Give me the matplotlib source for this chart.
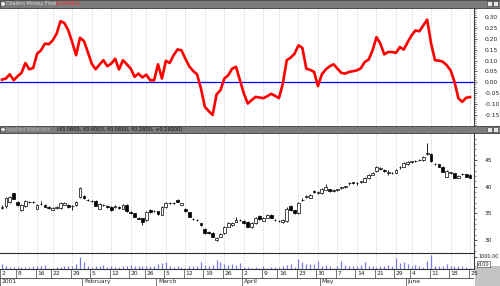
import numpy as np
import pandas as pd
import matplotlib
matplotlib.use('Agg')
import matplotlib.pyplot as plt
from matplotlib.patches import Rectangle

# chaikin money flow, one value per trading day
cmf = [0.012, 0.017, 0.037, 0.009, 0.028, 0.043, 0.089, 0.060, 0.066, 0.132,
       0.148, 0.179, 0.176, 0.194, 0.225, 0.283, 0.274, 0.240, 0.186, 0.125,
       0.206, 0.191, 0.140, 0.086, 0.060, 0.082, 0.102, 0.074, 0.086, 0.109,
       0.059, 0.102, 0.083, 0.063, 0.025, 0.040, 0.022, 0.035, 0.009, 0.009,
       0.083, 0.017, 0.099, 0.089, 0.125, 0.152, 0.148, 0.109, 0.074, 0.052,
       0.037, -0.029, -0.114, -0.134, -0.152, -0.057, -0.037, 0.017, 0.032, 0.063,
       0.071, 0.009, -0.052, -0.099, -0.083, -0.068, -0.071, -0.074, -0.065, -0.054,
       -0.063, -0.074, -0.006, 0.102, 0.114, 0.132, 0.171, 0.159, 0.063, 0.057,
       0.048, -0.018, 0.037, 0.059, 0.074, 0.083, 0.063, 0.043, 0.040, 0.048,
       0.051, 0.055, 0.065, 0.094, 0.105, 0.148, 0.209, 0.179, 0.129, 0.140,
       0.140, 0.136, 0.163, 0.151, 0.186, 0.217, 0.240, 0.236, 0.263, 0.290,
       0.179, 0.102, 0.100, 0.095, 0.079, 0.055, 0.002, -0.075, -0.091, -0.072,
       -0.069]

opens = [36.0, 36.3, 37.2, 38.75, 37.2, 35.6, 36.3, 37.1, 37.2, 35.9,
         36.7, 36.6, 36.1, 35.7, 36.0, 36.0, 36.6, 36.6, 36.3, 36.6,
         38.1, 38.3, 37.5, 37.4, 37.3, 35.9, 36.6, 36.3, 36.2, 36.2,
         36.1, 35.9, 36.6, 35.2, 35.0, 34.1, 34.1, 33.8, 35.6, 35.4,
         35.4, 34.7, 36.1, 36.9, 36.9, 37.5, 36.6, 35.9, 35.2, 33.9,
         33.8, 33.1, 32.1, 31.5, 31.4, 30.0, 30.6, 31.3, 32.5, 32.8,
         33.4, 33.8, 33.6, 33.4, 32.5, 33.1, 34.5, 33.6, 34.2, 34.7,
         33.8, 33.6, 33.3, 33.5, 36.3, 35.6, 35.0, 37.5, 38.1, 37.9,
         39.1, 38.9, 38.75, 39.4, 39.5, 39.1, 39.4, 39.8, 40.0, 40.6,
         40.8, 40.6, 40.9, 40.9, 41.6, 42.2, 42.9, 43.4, 43.2, 42.6,
         42.5, 42.6, 43.6, 43.75, 44.2, 44.7, 44.8, 45.0, 45.0, 46.2,
         46.1, 44.2, 44.2, 43.75, 41.9, 42.6, 42.5, 41.7, 42.3, 42.3,
         42.2]
highs = [36.5, 38.0, 38.3, 38.9, 37.4, 36.7, 37.5, 37.4, 37.4, 36.7,
         37.4, 36.8, 36.4, 36.2, 36.3, 37.1, 37.2, 36.8, 36.6, 37.3,
         40.0, 38.4, 37.7, 37.5, 37.5, 36.9, 36.8, 36.5, 36.3, 36.5,
         36.3, 36.8, 36.8, 35.4, 35.1, 34.3, 34.2, 35.4, 35.8, 35.6,
         35.5, 36.4, 37.1, 37.1, 37.1, 37.6, 37.0, 36.0, 35.3, 34.1,
         34.0, 33.2, 32.2, 31.7, 31.5, 30.5, 31.4, 32.7, 33.3, 33.3,
         34.4, 34.0, 33.7, 33.5, 33.3, 34.3, 34.6, 34.3, 34.9, 34.8,
         34.0, 33.8, 33.9, 36.1, 36.5, 35.7, 37.1, 37.8, 38.4, 38.6,
         39.3, 39.1, 39.8, 40.5, 39.6, 39.6, 39.6, 40.0, 40.2, 40.9,
         40.9, 40.8, 41.1, 41.8, 42.4, 42.8, 43.8, 43.6, 43.3, 43.2,
         42.7, 43.4, 43.8, 44.6, 44.9, 44.9, 45.0, 45.2, 45.8, 48.1,
         46.3, 44.4, 44.3, 43.9, 43.1, 42.8, 42.6, 42.2, 42.5, 42.4,
         42.3]
lows = [35.8, 36.0, 37.0, 37.6, 36.4, 35.4, 36.1, 36.9, 36.9, 35.8,
        36.5, 36.1, 35.8, 35.6, 35.9, 35.9, 36.5, 36.0, 35.6, 36.4,
        37.9, 37.7, 37.3, 37.1, 36.3, 35.8, 36.3, 36.0, 35.5, 36.0,
        35.9, 35.8, 35.3, 34.9, 34.3, 33.9, 32.8, 33.6, 35.0, 35.2,
        34.7, 34.6, 36.0, 36.7, 36.7, 37.1, 36.5, 35.3, 34.3, 33.7,
        33.5, 32.7, 31.2, 31.2, 30.5, 29.9, 30.5, 31.2, 32.4, 32.7,
        33.3, 33.5, 33.0, 32.4, 32.3, 33.0, 33.8, 33.5, 34.1, 34.1,
        33.6, 33.4, 33.2, 33.4, 35.5, 34.9, 34.9, 37.3, 37.9, 37.8,
        38.8, 38.6, 38.6, 39.3, 39.0, 39.0, 39.2, 39.6, 39.8, 40.4,
        40.5, 40.4, 40.7, 40.8, 41.5, 42.1, 42.8, 43.2, 42.8, 42.1,
        42.3, 42.5, 43.4, 43.6, 44.1, 44.5, 44.6, 44.8, 44.9, 46.0,
        44.7, 44.0, 43.6, 42.7, 41.8, 42.4, 41.6, 41.6, 42.1, 41.8,
        41.6]
closes = [36.2, 37.8, 38.1, 37.7, 36.6, 36.5, 37.3, 37.2, 37.1, 36.5,
          36.8, 36.2, 36.0, 36.0, 36.1, 36.9, 37.0, 36.2, 36.4, 37.1,
          39.7, 37.8, 37.5, 37.3, 36.4, 36.7, 36.5, 36.2, 35.6, 36.3,
          36.0, 36.6, 35.4, 35.1, 34.4, 34.0, 33.4, 35.2, 35.2, 35.4,
          34.8, 36.2, 36.9, 36.9, 36.9, 37.2, 36.9, 35.4, 34.4, 33.9,
          33.7, 32.8, 31.3, 31.4, 30.6, 30.3, 31.2, 32.5, 33.1, 33.1,
          33.7, 33.7, 33.1, 32.5, 33.1, 34.1, 33.9, 34.1, 34.7, 34.2,
          33.75, 33.5, 33.7, 35.9, 35.6, 35.0, 36.9, 37.5, 38.1, 38.4,
          39.0, 38.9, 39.6, 40.0, 39.1, 39.4, 39.4, 39.8, 40.0, 40.6,
          40.7, 40.6, 40.9, 41.6, 42.2, 42.6, 43.6, 43.4, 42.9, 42.6,
          42.5, 43.2, 43.6, 44.4, 44.7, 44.7, 44.8, 45.0, 45.6, 46.3,
          44.8, 44.2, 43.75, 42.8, 42.9, 42.6, 41.7, 42.0, 42.3, 41.9,
          41.7]

volume = [5.3, 2.7, 2.0, 2.0, 1.7, 1.7, 2.0, 2.0, 3.3, 2.7,
          2.7, 4.3, 1.0, 1.0, 2.0, 2.0, 2.7, 2.7, 3.3, 5.3,
          12.0, 6.7, 2.7, 2.0, 3.3, 2.7, 4.3, 1.7, 2.7, 2.0,
          2.0, 2.7, 3.3, 4.3, 2.7, 3.3, 2.7, 2.7, 2.7, 3.3,
          5.3, 6.0, 6.7, 3.3, 2.0, 2.7, 2.0, 1.0, 3.3, 2.7,
          3.3, 6.7, 4.3, 2.7, 4.3, 8.7, 6.7, 5.3, 4.3, 5.3,
          4.3, 6.0, 2.0, 2.0, 1.0, 2.0, 1.0, 2.7, 1.0, 1.7,
          2.0, 2.0, 2.7, 4.3, 5.3, 2.0, 10.0, 6.7, 5.3, 5.3,
          5.3, 7.7, 3.3, 4.3, 2.7, 1.0, 3.3, 7.7, 4.3, 3.3,
          3.3, 2.7, 4.3, 6.7, 2.7, 3.3, 2.0, 3.3, 2.7, 4.3,
          3.3, 11.0, 6.0, 6.7, 5.3, 2.7, 4.3, 3.3, 2.0, 7.7,
          14.3, 3.3, 3.3, 2.7, 5.3, 3.3, 3.3, 2.7, 3.3, 2.0,
          1.0]

holidays = ['2001-01-15', '2001-02-19', '2001-04-13', '2001-05-28']
dates = pd.bdate_range('2001-01-02', periods=len(closes), freq='C', holidays=holidays)

cmf_ticks = [0.30, 0.25, 0.20, 0.15, 0.10, 0.05, 0.00, -0.05, -0.10, -0.15]
price_ticks = [30, 35, 40, 45]
month_names = ['2001', 'February', 'March', 'April', 'May', 'June']

W, H = 500, 286
x = np.arange(len(closes))
xlim = (-0.51, 121.0)
fs = 4.3
grid_col = '#c8c8c8'


def box(x0, y0, x1, y1):
    # pixel box (y from top) -> figure fraction
    return [x0 / W, 1 - y1 / H, (x1 - x0) / W, (y1 - y0) / H]


# first trading day of every week, first of every month
wk = dates.isocalendar().week.values
week_idx = [i for i in range(len(dates)) if i == 0 or wk[i] != wk[i - 1]]
month_idx = [i for i in range(len(dates)) if i == 0 or dates[i].month != dates[i - 1].month]

fig = plt.figure(figsize=(W / 100, H / 100), dpi=100)
fig.patch.set_facecolor('white')

# ---- chaikin money flow panel
ax1 = fig.add_axes(box(0, 8, 474, 126))
ax1.plot(x, cmf, color='#ff0000', lw=1.9, solid_joinstyle='round', zorder=3)
ax1.axhline(0, color='#0000ff', lw=0.9, zorder=2)
ax1.set_ylim(-0.203, 0.344)
ax1.set_yticks(cmf_ticks)
ax1.set_yticklabels(['%.2f' % v for v in cmf_ticks])
ax1.set_yticks(np.arange(-0.20, 0.35, 0.01), minor=True)

# ---- price panel
ax2 = fig.add_axes(box(0, 133, 474, 252))
ax2.vlines(x, lows, highs, color='black', lw=0.6, zorder=2)
o = np.array(opens)
c = np.array(closes)
body = np.maximum(np.abs(c - o), 0.08)
ax2.bar(x, body, bottom=np.minimum(o, c), width=0.7,
        color=np.where(c >= o, 'white', 'black'), edgecolor='black', linewidth=0.5, zorder=3)
ax2.set_ylim(27.75, 50.06)
ax2.set_yticks(price_ticks)
ax2.set_yticks(np.arange(28, 50, 1), minor=True)

# ---- volume panel
ax3 = fig.add_axes(box(0, 253, 474, 269))
ax3.vlines(x, 0, volume, color='#7878f0', lw=0.9)
ax3.set_ylim(0, 16)
ax3.set_yticks([12.5])
ax3.set_yticklabels([''])

for ax in (ax1, ax2, ax3):
    ax.set_xlim(*xlim)
    ax.set_xticks([])
    for s in ('left', 'top', 'bottom'):
        ax.spines[s].set_visible(False)
    ax.spines['right'].set_color('#404040')
    ax.spines['right'].set_linewidth(0.8)
    ax.yaxis.tick_right()
    ax.tick_params(axis='y', which='major', length=2.5, width=0.5, pad=5,
                   labelsize=fs, colors='#202020')
    ax.tick_params(axis='y', which='minor', length=1.3, width=0.4, colors='#404040')
    for i in week_idx[1:]:
        ax.axvline(i, color=grid_col, lw=0.5, ls=(0, (2, 2)), zorder=0)

ax3.spines['top'].set_visible(True)
ax3.spines['top'].set_color('#303030')
ax3.spines['bottom'].set_visible(True)
ax3.spines['bottom'].set_color('#303030')
fig.text(478.5 / W, 1 - 257 / H, '1000.00', fontsize=3.5, va='center', ha='left', color='#202020')
fig.text(477 / W, 1 - 264 / H, 'x100', fontsize=3.6, va='center', ha='left', color='#202020',
         bbox=dict(boxstyle='square,pad=0.1', fc='white', ec='#303030', lw=0.4))

# ---- date axis (week days on top row, months below)
ax4 = fig.add_axes(box(0, 269, 474, 286))
ax4.set_xlim(*xlim)
ax4.set_ylim(0, 1)
ax4.axis('off')
ax4.axhline(0.5, color='#404040', lw=0.6)
for i in week_idx:
    ax4.plot([i - 0.4, i - 0.4], [0.5, 1.0], color='#404040', lw=0.5)
    ax4.text(i, 0.74, str(dates[i].day), fontsize=fs, ha='left', va='center', color='#202020')
for i, name in zip(month_idx, month_names):
    ax4.plot([i - 0.4, i - 0.4], [0.0, 0.5], color='#404040', lw=0.5)
    ax4.text(i, 0.24, name, fontsize=fs, ha='left', va='center', color='#202020')

# gray corner under the scales
fig.add_artist(Rectangle((474.5 / W, 0), 25.5 / W, 20 / H, transform=fig.transFigure,
                         facecolor='#c4c4c4', edgecolor='none', zorder=-1))

# ---- title bars
for y0, y1 in ((0, 7.5), (126, 133)):
    fig.add_artist(Rectangle((0, 1 - y1 / H), 1, (y1 - y0) / H, transform=fig.transFigure,
                             facecolor='#7c7c7c', edgecolor='#3c3c3c', lw=0.6))
    for bx in (487, 493):
        fig.add_artist(Rectangle((bx / W, 1 - (y1 - 1.3) / H), 5 / W, 5 / H,
                                 transform=fig.transFigure, facecolor='#e6e6e6',
                                 edgecolor='#303030', lw=0.4))
    fig.add_artist(Rectangle((1 / W, 1 - (y1 - 1.8) / H), 3.5 / W, 3.5 / H,
                             transform=fig.transFigure, facecolor='white',
                             edgecolor='#303030', lw=0.3))

fig.text(6 / W, 1 - 3.9 / H, 'Chaikin Money Flow', fontsize=3.6, color='#d8d8d8', va='center')
fig.text(56 / W, 1 - 3.9 / H, '(0.02953)', fontsize=3.6, color='#ff2020', va='center')
fig.text(6 / W, 1 - 129.7 / H, 'Applied Materials', fontsize=3.6, color='#b8b8b8', va='center')
fig.text(57 / W, 1 - 129.7 / H, '(43.0600, 43.4000, 43.0600, 43.2600, +0.19000)', fontsize=3.6,
         color='#101010', va='center')

plt.savefig('out.png', dpi=100)
plt.close('all')
